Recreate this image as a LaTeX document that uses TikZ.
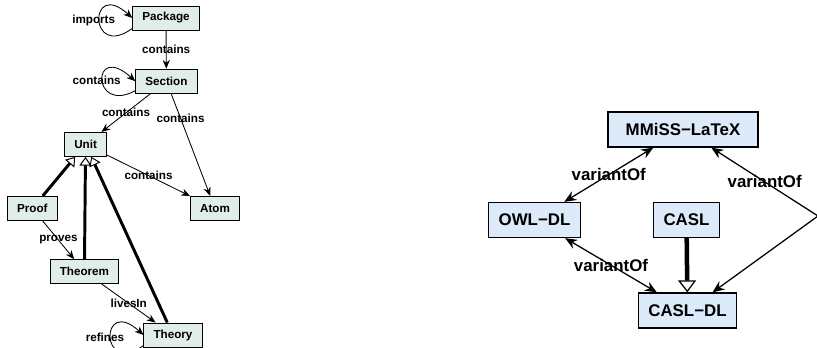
\documentclass[tikz,border=0pt]{standalone}
\usepackage{fontspec}
\setmainfont{Liberation Sans}
\usetikzlibrary{arrows.meta}

\definecolor{classfill}{HTML}{E1EDEB}
\definecolor{langfill}{HTML}{DCEAFA}

\begin{document}
\begin{tikzpicture}[
    classbox/.style={draw, fill=classfill, line width=0.65pt, minimum height=0.6cm, inner xsep=0.24cm, font=\fontsize{8.3}{10}\selectfont\bfseries},
    langbox/.style={draw, fill=langfill, line width=0.9pt, minimum height=0.875cm, inner xsep=0.25cm, font=\fontsize{12}{14}\selectfont\bfseries},
    smalllbl/.style={font=\fontsize{8.3}{10}\selectfont\bfseries, inner sep=0pt},
    biglbl/.style={font=\fontsize{12}{14}\selectfont\bfseries, inner sep=0pt},
    rel/.style={line width=0.6pt, -{Stealth[length=0.22cm, width=0.18cm, inset=0.07cm]}},
    isa/.style={line width=2.1pt, -{Triangle[open, length=0.22cm, width=0.3cm, line width=0.7pt]}},
    bigisa/.style={line width=3.2pt, -{Triangle[open, length=0.3cm, width=0.45cm, line width=0.9pt]}},
    variant/.style={line width=0.9pt, {Stealth[length=0.3cm, width=0.25cm, inset=0.1cm]}-{Stealth[length=0.3cm, width=0.25cm, inset=0.1cm]}},
    looplbl/.style={smalllbl, xshift=-0.14cm}
]

    \useasboundingbox (0, 0) rectangle (20.425, -8.675);

    % Nodes for the document structure
    \node at (4.15, -0.45) (Package) [classbox] {Package};
    \node at (4.16, -2.03) (Section) [classbox] {Section};
    \node at (2.14, -3.61) (Unit) [classbox] {Unit};
    \node at (0.81, -5.21) (Proof) [classbox] {Proof};
    \node at (5.375, -5.21) (Atom) [classbox] {Atom};
    \node at (2.11, -6.79) (Theorem) [classbox] {Theorem};
    \node at (4.325, -8.375) (Theory) [classbox] {Theory};

    % Nodes for the languages
    \node at (17.075, -3.2375) (MMiSS) [langbox, minimum width=3.75cm] {MMiSS−LaTeX};
    \node at (13.3625, -5.5) (OWL) [langbox] {OWL−DL};
    \node at (17.1625, -5.5) (CASL) [langbox] {CASL};
    \node at (17.1875, -7.7625) (CASLDL) [langbox] {CASL−DL};
    \coordinate (bend) at (20.45, -5.4);

    % Self loops
    \draw[rel] ([yshift=0.05cm]Package.south west) .. controls +(-1.1, -0.8) and +(-1.1, 1.0) .. node[looplbl] {imports} (Package.west);
    \draw[rel] ([yshift=0.075cm]Section.south west) .. controls +(-1.1, -0.6) and +(-1.1, 1.0) .. node[looplbl] {contains} (Section.west);
    \draw[rel] ([yshift=0.05cm]Theory.south west) .. controls +(-1.1, -0.8) and +(-1.1, 1.0) .. node[looplbl] {refines} (Theory.west);

    % Arrows for the document structure
    \draw[rel] (Package) -- node[smalllbl] {contains} (Section);
    \draw[rel] (Section) -- node[smalllbl] {contains} (Unit);
    \draw[rel] (Section) -- node[smalllbl, pos=0.24] {contains} (Atom);
    \draw[rel] (Unit) -- node[smalllbl] {contains} (Atom);
    \draw[rel] (Proof) -- node[smalllbl] {proves} (Theorem);
    \draw[rel] (Theorem) -- node[smalllbl] {livesIn} (Theory);

    % Specialisations
    \draw[isa] (Proof) -- (Unit);
    \draw[isa] (Theorem) -- (Unit);
    \draw[isa] (Theory) -- (Unit);
    \draw[bigisa] (CASL) -- (CASLDL);

    % Arrows for the languages
    \draw[variant] (MMiSS) -- node[biglbl] {variantOf} (OWL);
    \draw[variant] (OWL) -- node[biglbl] {variantOf} (CASLDL);
    \draw[variant] (CASLDL) -- (bend) -- node[biglbl] {variantOf} (MMiSS);

\end{tikzpicture}
\end{document}
